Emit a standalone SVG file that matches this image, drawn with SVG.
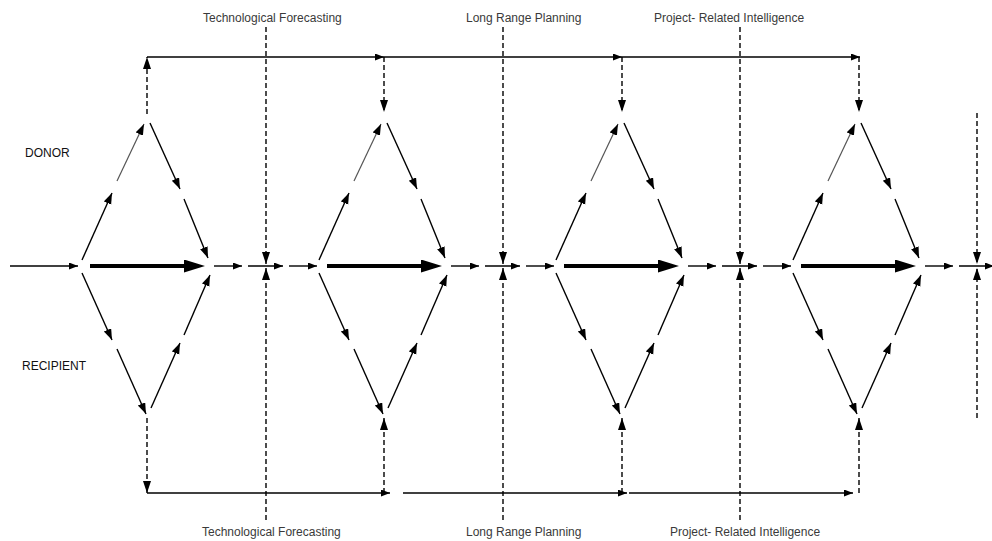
<svg xmlns="http://www.w3.org/2000/svg" xmlns:xlink="http://www.w3.org/1999/xlink" width="992" height="541" viewBox="0 0 992 541">
  <style>
    .ln { fill: none; stroke: #000; stroke-width: 1.4; }
    .lt { fill: none; stroke: #555; stroke-width: 1.2; }
    .dash { fill: none; stroke: #000; stroke-width: 1.4; stroke-dasharray: 5 3; }
    .thick { fill: none; stroke: #000; stroke-width: 4; }
    .side { font-family: "Liberation Sans", Arial, sans-serif; font-size: 12px; fill: #111; }
    .lbl { font-family: "Liberation Sans", Arial, sans-serif; font-size: 12px; fill: #3a3a3a; }
  </style>
  <defs>
    <marker id="ah" markerUnits="userSpaceOnUse" markerWidth="10" markerHeight="8" refX="9" refY="3.5" orient="auto">
      <path d="M0,0 L9,3.5 L0,7 z" fill="#000"/>
    </marker>
    <marker id="ahd" markerUnits="userSpaceOnUse" markerWidth="12" markerHeight="9" refX="11" refY="4" orient="auto">
      <path d="M0,0 L11,4 L0,8 z" fill="#000"/>
    </marker>
    <marker id="tri" markerUnits="userSpaceOnUse" markerWidth="13" markerHeight="9" refX="12" refY="4" orient="auto">
      <path d="M0,0 L12,4 L0,8 z" fill="#000"/>
    </marker>
    <marker id="big" markerUnits="userSpaceOnUse" markerWidth="23" markerHeight="14" refX="4" refY="6.5" orient="auto">
      <path d="M0,0 L21,6.5 L0,13 z" fill="#000"/>
    </marker>
    <!-- one exchange cycle: donor half above the axis, recipient half below -->
    <g id="cycle">
      <path class="ln" d="M82,260 L112,193" marker-end="url(#ahd)"/>
      <path class="lt" d="M117,181 L144,124" marker-end="url(#ahd)"/>
      <path class="ln" d="M150,123 L180,189" marker-end="url(#ahd)"/>
      <path class="ln" d="M184,199 L208,258" marker-end="url(#ahd)"/>
      <path class="ln" d="M82,273 L112,340" marker-end="url(#ahd)"/>
      <path class="ln" d="M117,349 L146,414" marker-end="url(#ahd)"/>
      <path class="ln" d="M151,408 L180,343" marker-end="url(#ahd)"/>
      <path class="ln" d="M184,335 L210,275" marker-end="url(#ahd)"/>
      <path class="thick" d="M90,266 L188,266" marker-end="url(#big)"/>
    </g>
  </defs>

  <!-- side labels -->
  <text class="side" x="25" y="157">DONOR</text>
  <text class="side" x="22" y="370">RECIPIENT</text>

  <!-- cycles -->
  <g id="stage-1"><use xlink:href="#cycle" href="#cycle"/></g>
  <g id="stage-2"><use xlink:href="#cycle" href="#cycle" transform="translate(237,0)"/></g>
  <g id="stage-3"><use xlink:href="#cycle" href="#cycle" transform="translate(474,0)"/></g>
  <g id="stage-4"><use xlink:href="#cycle" href="#cycle" transform="translate(711,0)"/></g>

  <g id="connectors">
    <!-- main axis -->
    <path class="ln" d="M10,266 L78,266" marker-end="url(#ah)"/>
    <path class="ln" d="M214,266 L242,266" marker-end="url(#ah)"/>
    <path class="ln" d="M248,266 L283,266" marker-end="url(#ah)"/>
    <path class="ln" d="M289,266 L317,266" marker-end="url(#ah)"/>
    <path class="ln" d="M451,266 L479,266" marker-end="url(#ah)"/>
    <path class="ln" d="M485,266 L520,266" marker-end="url(#ah)"/>
    <path class="ln" d="M526,266 L554,266" marker-end="url(#ah)"/>
    <path class="ln" d="M688,266 L716,266" marker-end="url(#ah)"/>
    <path class="ln" d="M722,266 L757,266" marker-end="url(#ah)"/>
    <path class="ln" d="M763,266 L791,266" marker-end="url(#ah)"/>
    <path class="ln" d="M925,266 L953,266" marker-end="url(#ah)"/>
    <path class="ln" d="M959,266 L994,266" marker-end="url(#ah)"/>

    <!-- donor feedback line -->
    <path class="dash" d="M147,114 L147,57" marker-end="url(#tri)"/>
    <path class="ln" d="M147,57 L384,57" marker-end="url(#ah)"/>
    <path class="ln" d="M384,57 L622,57" marker-end="url(#ah)"/>
    <path class="ln" d="M622,57 L860,57" marker-end="url(#ah)"/>
    <path class="dash" d="M384,57 L384,112" marker-end="url(#tri)"/>
    <path class="dash" d="M622,57 L622,112" marker-end="url(#tri)"/>
    <path class="dash" d="M859,57 L859,112" marker-end="url(#tri)"/>

    <!-- recipient feedback line -->
    <path class="dash" d="M147,418 L147,493" marker-end="url(#tri)"/>
    <path class="ln" d="M147,493 L390,493" marker-end="url(#ah)"/>
    <path class="ln" d="M403,493 L627,493" marker-end="url(#ah)"/>
    <path class="ln" d="M629,493 L853,493" marker-end="url(#ah)"/>
    <path class="dash" d="M384,493 L384,418" marker-end="url(#tri)"/>
    <path class="dash" d="M622,493 L622,418" marker-end="url(#tri)"/>
    <path class="dash" d="M859,493 L859,418" marker-end="url(#tri)"/>

    <!-- intelligence inputs crossing the axis -->
    <path class="dash" d="M266,27 L266,264" marker-end="url(#tri)"/>
    <path class="dash" d="M266,520 L266,268" marker-end="url(#tri)"/>
    <path class="dash" d="M503,27 L503,264" marker-end="url(#tri)"/>
    <path class="dash" d="M503,520 L503,268" marker-end="url(#tri)"/>
    <path class="dash" d="M740,27 L740,264" marker-end="url(#tri)"/>
    <path class="dash" d="M740,520 L740,268" marker-end="url(#tri)"/>
    <path class="dash" d="M977,113 L977,264" marker-end="url(#tri)"/>
    <path class="dash" d="M977,418 L977,268" marker-end="url(#tri)"/>
  </g>

  <g id="labels">
    <text class="lbl" x="203" y="22">Technological Forecasting</text>
    <text class="lbl" x="466" y="22">Long Range Planning</text>
    <text class="lbl" x="654" y="22">Project- Related Intelligence</text>
    <text class="lbl" x="202" y="536">Technological Forecasting</text>
    <text class="lbl" x="466" y="536">Long Range Planning</text>
    <text class="lbl" x="670" y="536">Project- Related Intelligence</text>
  </g>
</svg>
